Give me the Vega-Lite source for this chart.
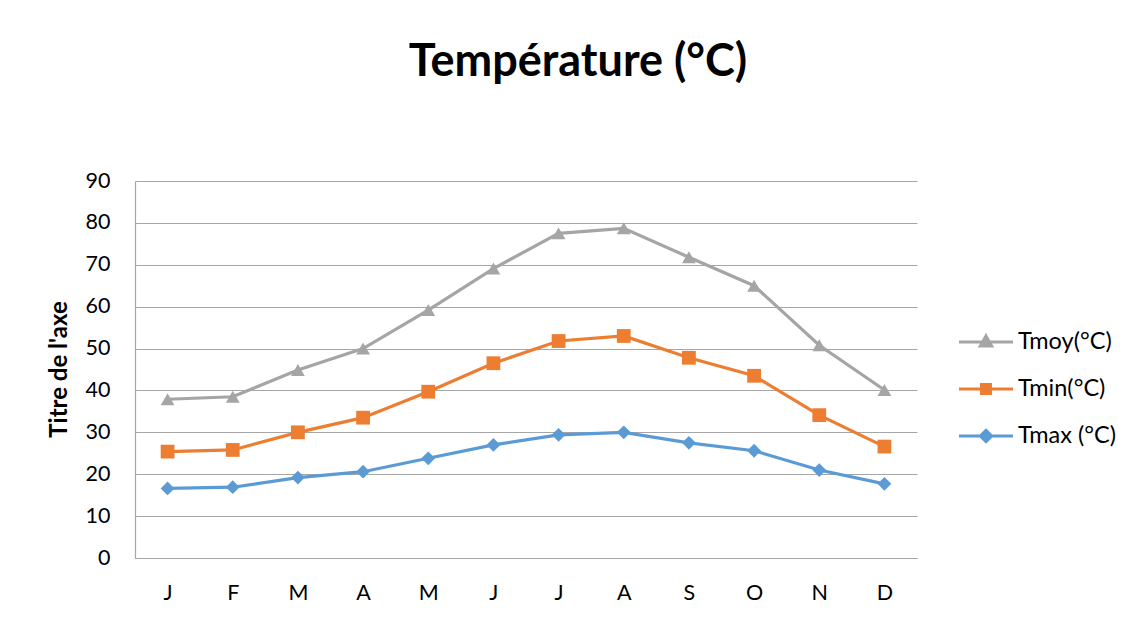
{
  "$schema": "https://vega.github.io/schema/vega-lite/v6.json",
  "width": 782,
  "height": 377,
  "autosize": "none",
  "padding": {"left": 135, "top": 181, "right": 216, "bottom": 60},
  "background": "white",
  "title": {
    "text": "Température (°C)",
    "font": "Lato",
    "fontSize": 45,
    "fontWeight": "bold",
    "color": "#000000",
    "anchor": "middle",
    "frame": "group",
    "baseline": "alphabetic",
    "offset": 49,
    "dx": 52
  },
  "config": {
    "view": {"stroke": null},
    "font": "Lato",
    "axis": {
      "labelFont": "Lato",
      "labelFontSize": 21.5,
      "labelColor": "#000000",
      "gridColor": "#A6A6A6",
      "gridWidth": 1.2,
      "domainColor": "#A6A6A6",
      "domainWidth": 1.2,
      "ticks": false
    }
  },
  "data": {
    "values": [
      {"n": 1, "serie": "Tmoy(°C)", "val": 37.9},
      {"n": 2, "serie": "Tmoy(°C)", "val": 38.5},
      {"n": 3, "serie": "Tmoy(°C)", "val": 44.9},
      {"n": 4, "serie": "Tmoy(°C)", "val": 50.0},
      {"n": 5, "serie": "Tmoy(°C)", "val": 59.2},
      {"n": 6, "serie": "Tmoy(°C)", "val": 69.1},
      {"n": 7, "serie": "Tmoy(°C)", "val": 77.5},
      {"n": 8, "serie": "Tmoy(°C)", "val": 78.7},
      {"n": 9, "serie": "Tmoy(°C)", "val": 71.8},
      {"n": 10, "serie": "Tmoy(°C)", "val": 65.0},
      {"n": 11, "serie": "Tmoy(°C)", "val": 50.8},
      {"n": 12, "serie": "Tmoy(°C)", "val": 40.1},
      {"n": 1, "serie": "Tmin(°C)", "val": 25.4},
      {"n": 2, "serie": "Tmin(°C)", "val": 25.8},
      {"n": 3, "serie": "Tmin(°C)", "val": 30.0},
      {"n": 4, "serie": "Tmin(°C)", "val": 33.5},
      {"n": 5, "serie": "Tmin(°C)", "val": 39.7},
      {"n": 6, "serie": "Tmin(°C)", "val": 46.5},
      {"n": 7, "serie": "Tmin(°C)", "val": 51.8},
      {"n": 8, "serie": "Tmin(°C)", "val": 53.0},
      {"n": 9, "serie": "Tmin(°C)", "val": 47.8},
      {"n": 10, "serie": "Tmin(°C)", "val": 43.5},
      {"n": 11, "serie": "Tmin(°C)", "val": 34.1},
      {"n": 12, "serie": "Tmin(°C)", "val": 26.6},
      {"n": 1, "serie": "Tmax (°C)", "val": 16.6},
      {"n": 2, "serie": "Tmax (°C)", "val": 16.9},
      {"n": 3, "serie": "Tmax (°C)", "val": 19.2},
      {"n": 4, "serie": "Tmax (°C)", "val": 20.6},
      {"n": 5, "serie": "Tmax (°C)", "val": 23.8},
      {"n": 6, "serie": "Tmax (°C)", "val": 27.0},
      {"n": 7, "serie": "Tmax (°C)", "val": 29.4},
      {"n": 8, "serie": "Tmax (°C)", "val": 30.0},
      {"n": 9, "serie": "Tmax (°C)", "val": 27.5},
      {"n": 10, "serie": "Tmax (°C)", "val": 25.6},
      {"n": 11, "serie": "Tmax (°C)", "val": 21.0},
      {"n": 12, "serie": "Tmax (°C)", "val": 17.7}
    ]
  },
  "encoding": {
    "x": {
      "field": "n",
      "type": "ordinal",
      "scale": {"type": "point", "padding": 0.5},
      "axis": {
        "title": null,
        "labelAngle": 0,
        "labelPadding": 24,
        "grid": false,
        "labelExpr": "['J','F','M','A','M','J','J','A','S','O','N','D'][datum.value - 1]"
      }
    },
    "y": {
      "field": "val",
      "type": "quantitative",
      "scale": {"domain": [0, 90], "nice": false},
      "axis": {
        "values": [0, 10, 20, 30, 40, 50, 60, 70, 80, 90],
        "title": "Titre de l'axe",
        "titleFont": "Lato",
        "titleFontSize": 24,
        "titleFontWeight": "bold",
        "titleColor": "#000000",
        "titleX": -76,
        "titleY": 188,
        "titleAngle": -90,
        "titleAlign": "center",
        "titleBaseline": "middle",
        "labelPadding": 25
      }
    },
    "color": {
      "field": "serie",
      "type": "nominal",
      "scale": {
        "domain": ["Tmoy(°C)", "Tmin(°C)", "Tmax (°C)"],
        "range": ["#A5A5A5", "#ED7D31", "#5B9BD5"]
      },
      "legend": {
        "title": null,
        "orient": "none",
        "legendX": 836,
        "legendY": 146,
        "padding": 0,
        "rowPadding": 20,
        "labelFont": "Lato",
        "labelFontSize": 23.5,
        "labelColor": "#000000",
        "labelOffset": 17,
        "symbolSize": 729,
        "symbolStrokeWidth": 3,
        "symbolType": "M-2,0H2",
        "encode": {
          "symbols": {
            "update": {
              "shape": {"signal": "datum.value === 'Tmoy(°C)' ? 'M-2,0H2M0,-0.45L0.42,0.3H-0.42Z' : (datum.value === 'Tmin(°C)' ? 'M-2,0H2M-0.33,-0.33H0.33V0.33H-0.33Z' : 'M-2,0H2M0,-0.42L0.42,0L0,0.42L-0.42,0Z')"},
              "fill": {"scale": "color", "field": "value"},
              "stroke": {"scale": "color", "field": "value"},
              "strokeWidth": {"value": 3}
            }
          }
        }
      }
    }
  },
  "layer": [
    {
      "mark": {"type": "line", "strokeWidth": 3.2}
    },
    {
      "transform": [{"filter": "datum.serie === 'Tmoy(°C)'"}],
      "mark": {"type": "point", "filled": true, "size": 190, "opacity": 1, "shape": "triangle-up"}
    },
    {
      "transform": [{"filter": "datum.serie === 'Tmin(°C)'"}],
      "mark": {"type": "point", "filled": true, "size": 190, "opacity": 1, "shape": "square"}
    },
    {
      "transform": [{"filter": "datum.serie === 'Tmax (°C)'"}],
      "mark": {"type": "point", "filled": true, "size": 190, "opacity": 1, "shape": "diamond"}
    }
  ]
}
